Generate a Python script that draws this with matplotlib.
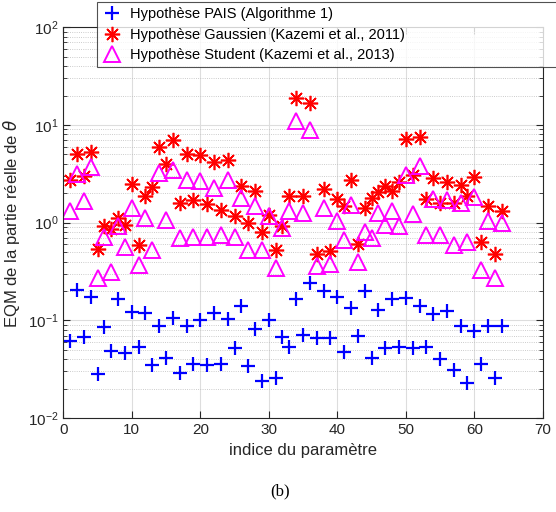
import numpy as np
import matplotlib
matplotlib.use("Agg")
import matplotlib.pyplot as plt
from matplotlib.ticker import LogLocator, NullFormatter

plt.rcParams['font.family'] = ['Liberation Sans', 'DejaVu Sans']

# index of each parameter (1..64)
indices = np.arange(1, 65)

# EQM values
eqm_pais = [0.062, 0.206, 0.067, 0.175, 0.028, 0.085, 0.049, 0.165, 0.046, 0.123, 0.054, 0.120, 0.035, 0.088, 0.041, 0.105,
            0.029, 0.088, 0.036, 0.101, 0.035, 0.120, 0.036, 0.103, 0.052, 0.139, 0.034, 0.081, 0.024, 0.101, 0.0255,
            0.068, 0.054, 0.165, 0.071, 0.24, 0.066, 0.198, 0.066, 0.173, 0.048, 0.133, 0.069, 0.198, 0.041, 0.128, 0.052, 0.165,
            0.053, 0.169, 0.052, 0.139, 0.054, 0.117, 0.040, 0.126, 0.031, 0.088, 0.0227, 0.077, 0.036, 0.088, 0.026, 0.088]
eqm_gauss = [2.76, 5.06, 3.03, 5.35, 0.54, 0.93, 0.86, 1.13, 0.95, 2.51, 0.59, 1.89, 2.32, 5.97, 4.03, 7.1,
             1.59, 5.1, 1.72, 4.98, 1.57, 4.16, 1.36, 4.43, 1.18, 2.36, 1.0, 2.10, 0.81, 1.21, 0.52,
             0.92, 1.86, 19.0, 1.89, 16.6, 0.48, 2.21, 0.51, 1.75, 1.49, 2.72, 0.61, 1.41, 1.79, 2.05, 2.36, 2.1,
             2.59, 7.2, 3.11, 7.57, 1.75, 2.87, 1.59, 2.59, 1.59, 2.45, 1.89, 2.94, 0.64, 1.47, 0.48, 1.31]
eqm_student = [1.33, 3.13, 1.67, 3.70, 0.27, 0.71, 0.31, 0.92, 0.56, 1.41, 0.37, 1.12, 0.52, 3.23, 1.07, 3.5,
               0.70, 2.76, 0.72, 2.65, 0.72, 2.27, 0.75, 2.76, 0.72, 1.79, 0.53, 1.47, 0.52, 1.16, 0.34,
               0.88, 1.31, 10.9, 1.26, 8.85, 0.36, 1.41, 0.38, 1.03, 0.67, 1.53, 0.40, 0.81, 0.70, 1.26, 0.95, 1.33,
               0.92, 3.11, 1.24, 3.84, 0.75, 1.75, 0.75, 1.72, 0.59, 1.59, 0.63, 1.83, 0.33, 1.03, 0.27, 1.0]

labels = ['Hypothèse PAIS (Algorithme 1)',
          'Hypothèse Gaussien (Kazemi et al., 2011)',
          'Hypothèse Student (Kazemi et al., 2013)']

fig = plt.figure(figsize=(5.56, 5.12), dpi=100)
ax = fig.add_axes([0.1138, 0.1834, 0.8625, 0.7633])

ax.semilogy(indices, eqm_pais, linestyle='none', marker='+', color='blue',
            markersize=10, markeredgewidth=1.6, label=labels[0])
ax.semilogy(indices, eqm_gauss, linestyle='none', marker=(8, 2, 0), color='red',
            markersize=11, markeredgewidth=1.2, label=labels[1])
ax.semilogy(indices, eqm_student, linestyle='none', marker='^', color='magenta',
            markerfacecolor='none', markersize=12, markeredgewidth=1.4, label=labels[2])

ax.set_xlim(0, 70)
ax.set_ylim(1e-2, 1e2)
ax.set_xticks(range(0, 71, 10))
ax.yaxis.set_major_locator(LogLocator(base=10, numticks=10))
ax.yaxis.set_minor_locator(LogLocator(base=10, subs=np.arange(2, 10), numticks=20))
ax.yaxis.set_minor_formatter(NullFormatter())

ax.grid(True, which='major', color='#dddddd', linewidth=0.8, linestyle='-')
ax.grid(True, which='minor', axis='y', color='#bbbbbb', linewidth=0.6, linestyle=':')
ax.set_axisbelow(True)

ax.tick_params(which='both', direction='in', top=True, right=True, labelsize=11, colors='#262626')
ax.tick_params(which='major', length=5)
ax.tick_params(which='minor', length=3)
for sp in ax.spines.values():
    sp.set_color('#262626')
    sp.set_linewidth(0.8)

ax.set_xlabel('indice du paramètre', fontsize=12, color='#262626')
ax.set_ylabel(r'EQM de la partie réelle de $\theta$', fontsize=12, color='#262626', labelpad=4)

# legend box sits at the very top, running off the right edge
leg = fig.legend(loc='upper left', bbox_to_anchor=(97 / 556, 1 - 2 / 512, 470 / 556, 0),
                 mode='expand', borderaxespad=0, fontsize=10.5, frameon=True, fancybox=False,
                 edgecolor='#262626', borderpad=0.35, labelspacing=0.45, handletextpad=0.5,
                 handlelength=1.4, markerscale=1.0)
leg.get_frame().set_linewidth(0.8)

fig.text(0.503, 0.04, '(b)', fontsize=12, family='Liberation Serif', ha='center', va='center')

fig.savefig('out.png', dpi=100)
